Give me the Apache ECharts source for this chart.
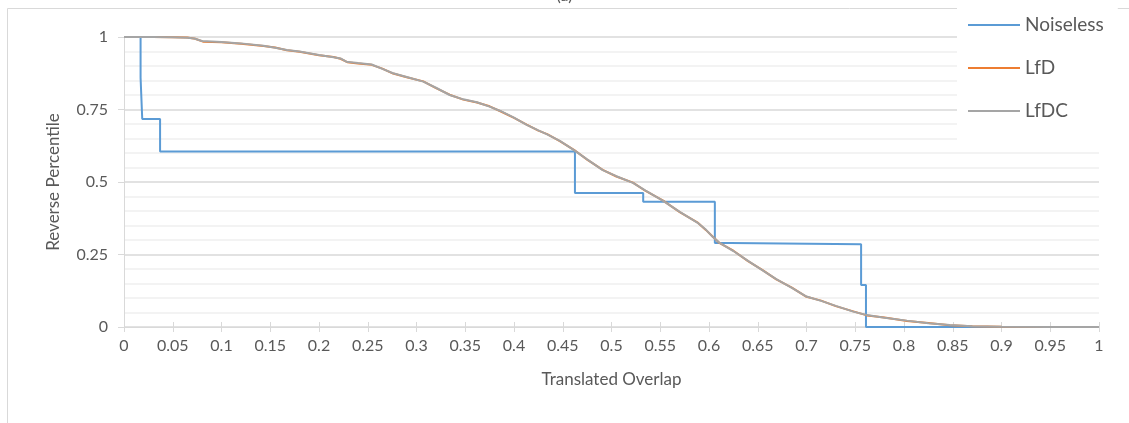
<!DOCTYPE html>
<html>
<head>
<meta charset="utf-8">
<title>Reverse Percentile vs Translated Overlap</title>
<script src="https://cdn.jsdelivr.net/npm/echarts@6/dist/echarts.min.js"></script>
<style>
  html, body { margin: 0; padding: 0; background: #ffffff; }
  #chart { width: 1129px; height: 423px; }
</style>
</head>
<body>
<div id="chart"></div>
<script>
// Noiseless: step curve, as corner points (x, y)
const noiselessX = [0, 0.017, 0.017, 0.0187, 0.0187, 0.037, 0.037, 0.4625, 0.4625, 0.5325, 0.5325, 0.606, 0.606, 0.622, 0.622, 0.756, 0.756, 0.761, 0.761, 1];
const noiselessY = [1, 1, 0.86, 0.855, 0.717, 0.717, 0.605, 0.605, 0.462, 0.462, 0.432, 0.432, 0.29, 0.29, 0.285, 0.285, 0.145, 0.145, 0, 0];

// LfDC: reverse percentile curve
const lfdcX = [0, 0.03, 0.05, 0.065, 0.072, 0.08, 0.1, 0.12, 0.143, 0.155, 0.167, 0.18, 0.2, 0.215, 0.222, 0.228, 0.24, 0.254, 0.265, 0.276, 0.29, 0.307, 0.32, 0.334, 0.348, 0.362, 0.375, 0.386, 0.4, 0.413, 0.425, 0.434, 0.447, 0.4615, 0.475, 0.491, 0.505, 0.522, 0.535, 0.553, 0.57, 0.588, 0.597, 0.604, 0.611, 0.625, 0.64, 0.655, 0.669, 0.685, 0.7, 0.715, 0.73, 0.748, 0.762, 0.78, 0.803, 0.825, 0.847, 0.87, 0.9, 0.95, 1];
const lfdcY = [1, 1, 0.999, 0.997, 0.995, 0.986, 0.983, 0.978, 0.97, 0.963, 0.955, 0.95, 0.938, 0.93, 0.926, 0.915, 0.91, 0.905, 0.89, 0.875, 0.862, 0.846, 0.825, 0.8, 0.785, 0.775, 0.76, 0.745, 0.722, 0.697, 0.678, 0.664, 0.642, 0.61, 0.578, 0.541, 0.52, 0.497, 0.47, 0.435, 0.397, 0.36, 0.335, 0.31, 0.29, 0.262, 0.228, 0.195, 0.165, 0.135, 0.105, 0.09, 0.073, 0.053, 0.041, 0.032, 0.022, 0.013, 0.007, 0.003, 0.001, 0, 0];

// LfD: nearly coincident with LfDC
const lfdX = [0, 0.03, 0.05, 0.065, 0.073, 0.081, 0.1, 0.12, 0.143, 0.155, 0.167, 0.18, 0.2, 0.215, 0.222, 0.229, 0.24, 0.254, 0.265, 0.276, 0.29, 0.307, 0.32, 0.334, 0.348, 0.362, 0.375, 0.386, 0.4, 0.413, 0.425, 0.434, 0.447, 0.4615, 0.475, 0.491, 0.505, 0.522, 0.535, 0.553, 0.57, 0.588, 0.597, 0.604, 0.611, 0.625, 0.64, 0.655, 0.669, 0.685, 0.7, 0.715, 0.73, 0.748, 0.762, 0.78, 0.803, 0.825, 0.847, 0.87, 0.9, 0.95, 1];
const lfdY = [1, 1, 0.999, 0.998, 0.994, 0.984, 0.982, 0.977, 0.969, 0.964, 0.954, 0.949, 0.937, 0.931, 0.925, 0.913, 0.909, 0.904, 0.891, 0.874, 0.861, 0.847, 0.824, 0.801, 0.784, 0.774, 0.761, 0.744, 0.721, 0.698, 0.677, 0.665, 0.641, 0.611, 0.577, 0.542, 0.519, 0.498, 0.469, 0.436, 0.396, 0.361, 0.334, 0.311, 0.289, 0.263, 0.227, 0.196, 0.164, 0.136, 0.104, 0.091, 0.072, 0.054, 0.04, 0.033, 0.021, 0.014, 0.006, 0.003, 0.001, 0, 0];

const seriesNames = ['Noiseless', 'LfD', 'LfDC'];
const seriesColors = ['#5B9BD5', '#ED7D31', '#A5A5A5'];

function pairs(xs, ys) {
  return xs.map((x, i) => [x, ys[i]]);
}

const FONT = 'Lato, "Open Sans", sans-serif';
const TEXT = '#595959';
const GRID_MAJOR = '#d9d9d9';
const GRID_MINOR = '#f0f0f0';

const chart = echarts.init(document.getElementById('chart'), null, { renderer: 'canvas' });

function lineSeries(i, xs, ys, z) {
  return {
    name: seriesNames[i], type: 'line', xAxisIndex: 0,
    data: pairs(xs, ys),
    showSymbol: false, symbol: 'none',
    lineStyle: { color: seriesColors[i], width: 2 },
    itemStyle: { color: seriesColors[i] },
    z: z
  };
}

chart.setOption({
  backgroundColor: '#ffffff',
  animation: false,
  textStyle: { fontFamily: FONT },
  title: {
    text: '(a)',
    left: 'center',
    top: -17,
    textStyle: { fontFamily: FONT, fontSize: 16, fontWeight: 'normal', color: TEXT }
  },
  graphic: [{
    type: 'rect',
    shape: { x: 7.5, y: 8.5, width: 1140, height: 440 },
    style: { fill: 'none', stroke: GRID_MAJOR, lineWidth: 1 },
    z: -1
  }],
  grid: { left: 124, right: 30, top: 37, bottom: 96, containLabel: false },
  legend: {
    orient: 'vertical',
    left: 957,
    top: 6,
    padding: [8, 14, 28, 11],
    backgroundColor: '#ffffff',
    icon: 'rect',
    itemWidth: 52,
    itemHeight: 2,
    itemGap: 21,
    data: seriesNames,
    textStyle: { fontFamily: FONT, fontSize: 19, color: TEXT, lineHeight: 22 }
  },
  xAxis: [{
    type: 'value',
    min: 0, max: 1, interval: 0.05,
    name: 'Translated Overlap',
    nameLocation: 'middle',
    nameGap: 44,
    nameTextStyle: { fontFamily: FONT, fontSize: 17, color: TEXT },
    axisLine: { show: true, onZero: false, lineStyle: { color: GRID_MAJOR, width: 1 } },
    axisTick: { show: true, length: 5, lineStyle: { color: GRID_MAJOR } },
    axisLabel: {
      margin: 11, fontFamily: FONT, fontSize: 16, color: TEXT,
      formatter: v => String(Math.round(v * 100) / 100)
    },
    splitLine: { show: false }
  }, {
    type: 'value',
    position: 'bottom',
    min: 0, max: 1, interval: 0.05,
    axisLine: { show: false },
    axisTick: { show: true, inside: true, length: 5, lineStyle: { color: GRID_MAJOR } },
    axisLabel: { show: false },
    splitLine: { show: false }
  }],
  yAxis: {
    type: 'value',
    min: 0, max: 1, interval: 0.25,
    name: 'Reverse Percentile',
    nameLocation: 'middle',
    nameGap: 62,
    nameTextStyle: { fontFamily: FONT, fontSize: 17, color: TEXT },
    axisLine: { show: true, lineStyle: { color: GRID_MAJOR, width: 1 } },
    axisTick: { show: true, length: 6, lineStyle: { color: GRID_MAJOR } },
    axisLabel: {
      margin: 16, fontFamily: FONT, fontSize: 16, color: TEXT,
      formatter: v => String(Math.round(v * 100) / 100)
    },
    splitLine: { show: true, lineStyle: { color: GRID_MAJOR, width: 1.5 } },
    minorTick: { show: false, splitNumber: 5 },
    minorSplitLine: { show: true, lineStyle: { color: GRID_MINOR, width: 1.5 } }
  },
  series: [
    lineSeries(0, noiselessX, noiselessY, 3),
    lineSeries(1, lfdX, lfdY, 4),
    lineSeries(2, lfdcX, lfdcY, 5)
  ]
});
</script>
</body>
</html>
